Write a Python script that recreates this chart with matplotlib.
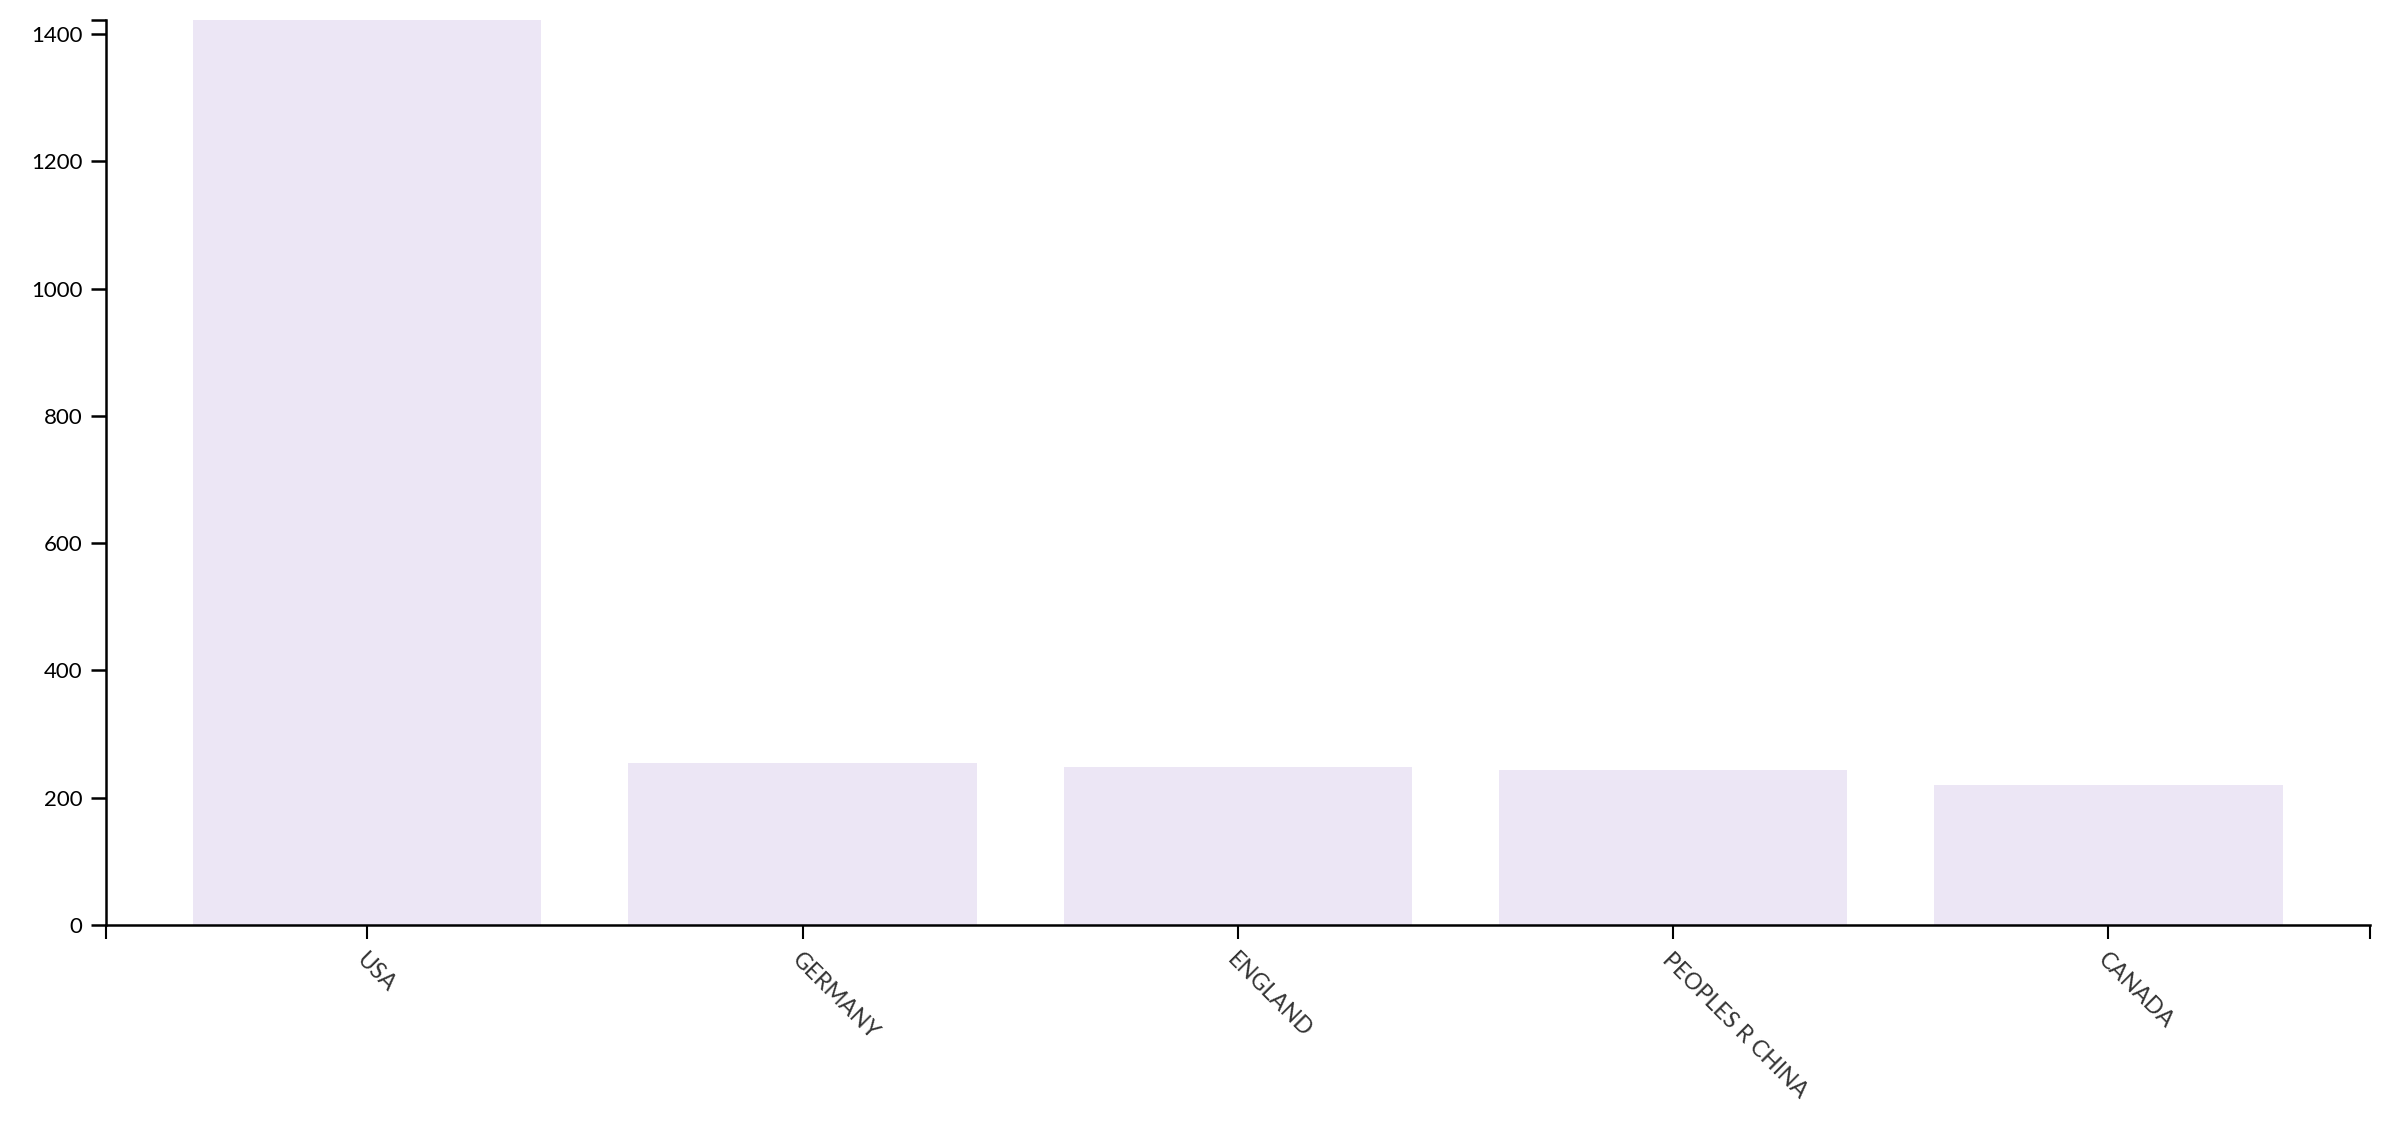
import matplotlib
matplotlib.use("Agg")
import matplotlib.pyplot as plt
import numpy as np

# countries and publication counts
countries = ["USA", "GERMANY", "ENGLAND", "PEOPLES R CHINA", "CANADA"]
counts = [1422, 254, 248, 243, 220]
y_ticks = [0, 200, 400, 600, 800, 1000, 1200, 1400]

plt.rcParams['font.family'] = ['Lato', 'DejaVu Sans']

fig = plt.figure(figsize=(24.05, 11.27), dpi=100)
ax = fig.add_axes([0.0441, 0.1792, 0.9412, 0.8031])

x = np.arange(len(countries))
ax.bar(x, counts, width=0.8, color='#ece6f5', edgecolor='none')

# band scale with 0.2 inner/outer padding
ax.set_xlim(-0.6, len(countries) - 0.4)
ax.set_ylim(0, max(counts))

ax.set_xticks(x)
ax.set_xticklabels(countries, rotation=-45, ha='left', va='top',
                   rotation_mode='anchor', color='#333333', fontsize=16.5)
ax.set_yticks(y_ticks)
ax.set_yticklabels([str(v) for v in y_ticks], fontsize=16, color='black')

# outer ticks at the ends of the domain, d3 style
ax.set_xticks([-0.6, len(countries) - 0.4], minor=True)
ax.set_yticks([max(counts)], minor=True)

for spine in ['top', 'right']:
    ax.spines[spine].set_visible(False)
for spine in ['left', 'bottom']:
    ax.spines[spine].set_linewidth(1.8)
    ax.spines[spine].set_color('black')

ax.tick_params(axis='x', which='both', direction='out', length=10, width=1.5,
               pad=7, color='black')
ax.tick_params(axis='y', which='both', direction='out', length=11, width=1.8,
               pad=6, color='black')

fig.savefig('out.png', dpi=100)
